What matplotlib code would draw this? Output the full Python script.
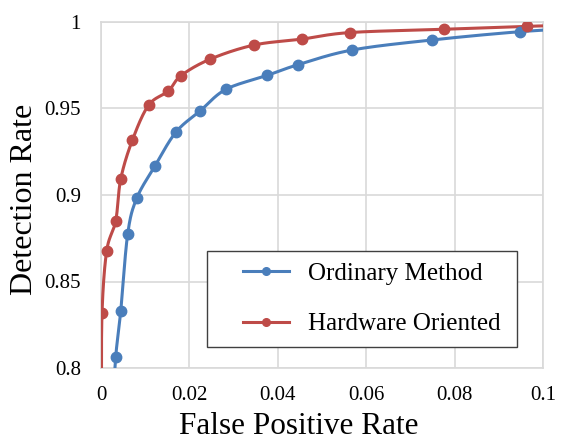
import numpy as np
import matplotlib
matplotlib.use("Agg")
import matplotlib.pyplot as plt
from matplotlib.lines import Line2D
from matplotlib.legend_handler import HandlerLine2D

# ---- data ----
ordinary_fpr = [0.0028, 0.00333, 0.00446, 0.00604, 0.00808, 0.01222, 0.01697, 0.02251,
                0.02828, 0.03756, 0.04468, 0.05679, 0.07482, 0.0948, 0.11]
ordinary_dr = [0.78, 0.8065, 0.8329, 0.8775, 0.8981, 0.9168, 0.9364, 0.9488,
               0.9611, 0.9691, 0.9754, 0.9838, 0.9896, 0.9944, 0.9966]
hardware_fpr = [0.0001, 0.00023, 0.00129, 0.00333, 0.00446, 0.00708, 0.01079, 0.01523,
                0.0181, 0.02477, 0.03466, 0.04541, 0.05633, 0.0776, 0.0963, 0.11]
hardware_dr = [0.78, 0.8316, 0.8678, 0.8851, 0.9092, 0.9316, 0.9520, 0.9601,
               0.9690, 0.9786, 0.9867, 0.9901, 0.9939, 0.9958, 0.9975, 0.9983]
series_names = ["Ordinary Method", "Hardware Oriented"]
x_ticks = [0, 0.02, 0.04, 0.06, 0.08, 0.1]
y_ticks = [0.8, 0.85, 0.9, 0.95, 1]
x_label = "False Positive Rate"
y_label = "Detection Rate"

BLUE = "#4A7EBB"
RED = "#BE4B48"
GRID = "#D9D9D9"
FONT = "Liberation Serif"

fig = plt.figure(figsize=(5.62, 4.43), dpi=100)
ax = fig.add_axes([101/562, 75/443, 442/562, 346/443])
ax.set_xlim(0, 0.1)
ax.set_ylim(0.8, 1.0)


def smooth(xs, ys, n=30):
    """Catmull-Rom smoothing done in display space (drawing style only)."""
    pts = ax.transData.transform(np.column_stack([xs, ys]))
    P = np.vstack([2*pts[0]-pts[1], pts, 2*pts[-1]-pts[-2]])
    out = []
    for i in range(1, len(P)-2):
        p0, p1, p2, p3 = P[i-1], P[i], P[i+1], P[i+2]
        t = np.linspace(0, 1, n, endpoint=False)[:, None]
        seg = 0.5*((2*p1) + (-p0+p2)*t + (2*p0-5*p1+4*p2-p3)*t**2 + (-p0+3*p1-3*p2+p3)*t**3)
        out.append(seg)
    out.append(P[-2][None, :])
    out = np.vstack(out)
    d = ax.transData.inverted().transform(out)
    return d[:, 0], d[:, 1]


for xs, ys, c in [(ordinary_fpr, ordinary_dr, BLUE), (hardware_fpr, hardware_dr, RED)]:
    sx, sy = smooth(xs, ys)
    ax.plot(sx, sy, color=c, lw=2.2, solid_capstyle="butt", zorder=3)
    ax.plot(xs, ys, "o", color=c, ms=7.5, zorder=4)

ax.set_xticks(x_ticks)
ax.set_yticks(y_ticks)
ax.set_xticklabels(["%g" % v for v in x_ticks], fontfamily=FONT, fontsize=15)
ax.set_yticklabels(["%g" % v for v in y_ticks], fontfamily=FONT, fontsize=15)
ax.tick_params(axis="x", length=0, pad=13)
ax.tick_params(axis="y", length=0, pad=14.5)
ax.grid(True, color=GRID, lw=1.2, zorder=0)
ax.set_axisbelow(True)
for s in ax.spines.values():
    s.set_color(GRID)
    s.set_linewidth(1.2)

ax.set_xlabel(x_label, fontfamily=FONT, fontsize=22.5)
ax.xaxis.set_label_coords((299-101)/442, -66/346)
ax.xaxis.label.set_va("baseline")
ax.set_ylabel(y_label, fontfamily=FONT, fontsize=23, labelpad=4)
ax.yaxis.label.set_y((443-199-75)/346)


class ShiftedHandler(HandlerLine2D):
    """Draw the legend sample in the right part of the handle box."""
    def __init__(self, shift_px, **kw):
        super().__init__(**kw)
        self.shift_px = shift_px

    def create_artists(self, legend, orig_handle, xdescent, ydescent, width,
                       height, fontsize, trans):
        s = self.shift_px
        return super().create_artists(legend, orig_handle, xdescent - s, ydescent,
                                      width - s, height, fontsize, trans)


handles = [Line2D([], [], color=BLUE, lw=2.2, marker="o", ms=5.5),
           Line2D([], [], color=RED, lw=2.2, marker="o", ms=5.5)]
fs_px = 18 * 100 / 72
handler = ShiftedHandler(shift_px=24 * 72 / 100)
leg = ax.legend(handles, series_names, loc="lower left",
                bbox_to_anchor=(207/562, (443-347)/443, 310/562, 98/443),
                bbox_transform=fig.transFigure, mode="expand",
                prop={"family": FONT, "size": 18}, frameon=True, fancybox=False,
                edgecolor="#404040", framealpha=1, handlelength=70/fs_px,
                handletextpad=19/fs_px, labelspacing=1.12, borderpad=0.47,
                borderaxespad=0,
                handler_map={Line2D: handler})
leg.get_frame().set_linewidth(1.0)

fig.savefig("out.png", dpi=100)
